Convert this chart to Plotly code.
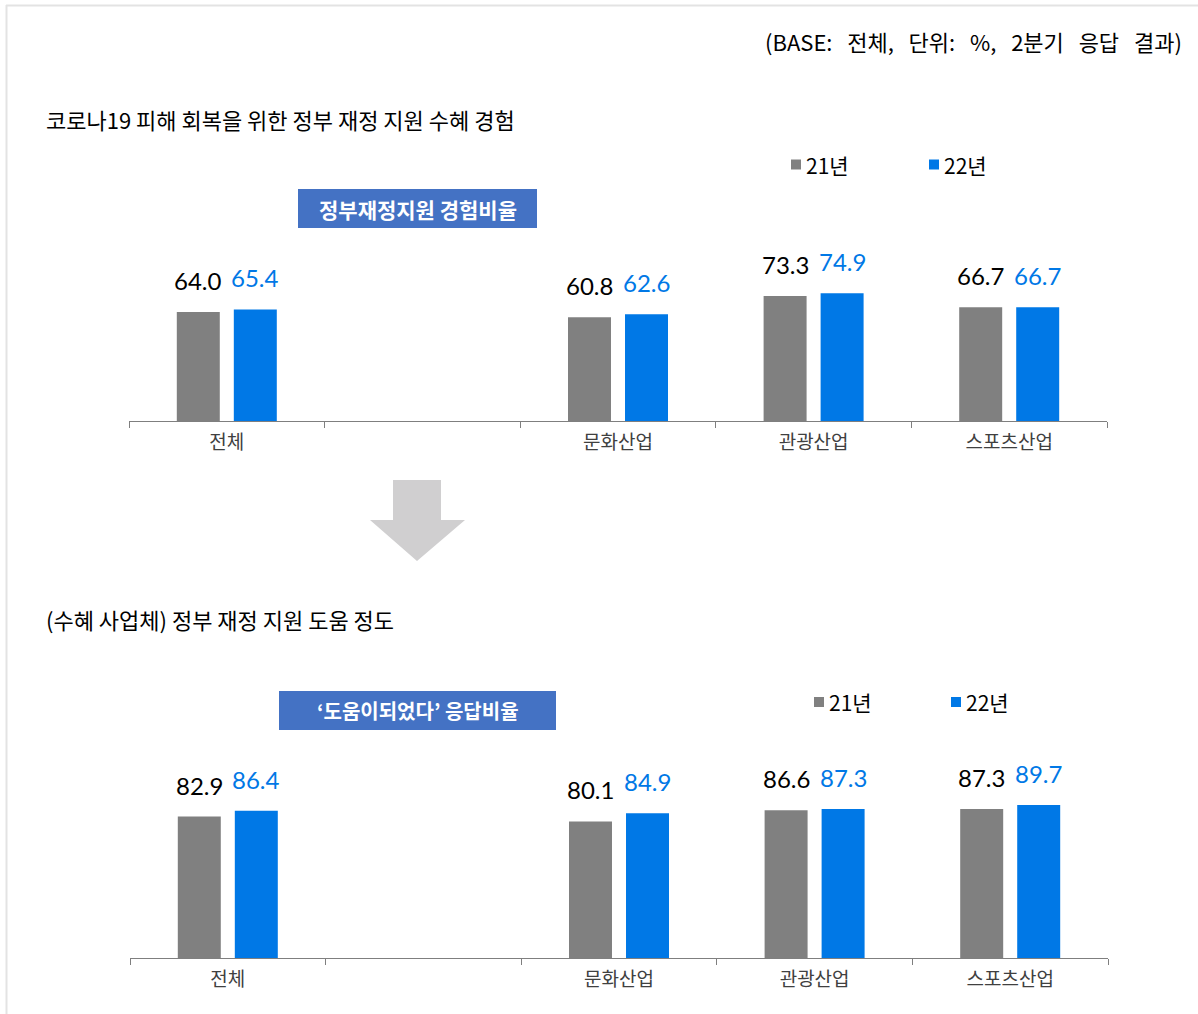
import plotly.graph_objects as go

W, H = 1198, 1014

categories = ["전체", " ", "문화산업", "관광산업", "스포츠산업"]
series_names = ["21년", "22년"]
support_21 = [64.0, None, 60.8, 73.3, 66.7]
support_22 = [65.4, None, 62.6, 74.9, 66.7]
helpful_21 = [82.9, None, 80.1, 86.6, 87.3]
helpful_22 = [86.4, None, 84.9, 87.3, 89.7]

title_top = "코로나19 피해 회복을 위한 정부 재정 지원 수혜 경험"
title_bottom = "(수혜 사업체) 정부 재정 지원 도움 정도"
base_note = "(BASE:   전체,   단위:   %,   2분기   응답   결과)"
box_top = "정부재정지원 경험비율"
box_bottom = "‘도움이되었다’ 응답비율"

GRAY = "#808080"
BLUE = "#0078E6"
KR = "Noto Sans CJK KR"
NUM = "Lato"


def px(x):
    return x / W


def py(y):
    return 1 - y / H


def nbsp(s):
    return s.replace(" ", "\u00a0")


fig = go.Figure()

panels = [
    ("x", "y", support_21, support_22),
    ("x2", "y2", helpful_21, helpful_22),
]
for xa, ya, v21, v22 in panels:
    for name, vals, col in [(series_names[0], v21, GRAY), (series_names[1], v22, BLUE)]:
        fig.add_trace(go.Bar(x=categories, y=vals, name=name, marker_color=col,
                             marker_line_width=0, xaxis=xa, yaxis=ya,
                             showlegend=False, hoverinfo="skip"))

annotations = []
for xa, ya, v21, v22 in panels:
    for vals, col, shift in [(v21, "#000000", -28.5), (v22, BLUE, 28.5)]:
        for c, v in zip(categories, vals):
            if v is None:
                continue
            annotations.append(dict(x=c, y=v, xref=xa, yref=ya, text=f"{v:.1f}",
                                    showarrow=False, xshift=shift, yshift=15,
                                    yanchor="bottom",
                                    font=dict(family=NUM, size=24, color=col)))

axis_common = dict(type="category", categoryorder="array", categoryarray=categories,
                   showline=True, linecolor="#7f7f7f", linewidth=1,
                   ticks="outside", ticklen=6, tickcolor="#7f7f7f",
                   tickson="boundaries", showgrid=False, zeroline=False,
                   ticklabelstandoff=4,
                   tickfont=dict(family=KR, size=19, color="#404040"),
                   range=[-0.5, 4.5], fixedrange=True)
yaxis_common = dict(showline=False, showgrid=False, zeroline=False,
                    showticklabels=False, ticks="")

fig.update_layout(
    width=W, height=H, margin=dict(l=0, r=0, t=0, b=0),
    paper_bgcolor="white", plot_bgcolor="white",
    barmode="group", bargap=0.417, bargroupgap=0.246,
    xaxis=dict(axis_common, domain=[px(129), px(1107)], anchor="y"),
    yaxis=dict(yaxis_common, domain=[py(421), py(421 - 170.5)], range=[0, 100], anchor="x"),
    xaxis2=dict(axis_common, domain=[px(130), px(1108)], anchor="y2"),
    yaxis2=dict(yaxis_common, domain=[py(958), py(958 - 187.6)], range=[0, 110], anchor="x2"),
    showlegend=False,
)

# titles / notes
annotations += [
    dict(x=px(1184), y=py(41), xref="paper", yref="paper", text=nbsp(base_note),
         xanchor="right", yanchor="middle", showarrow=False,
         font=dict(family=KR, size=22, color="#000000")),
    dict(x=px(44), y=py(119), xref="paper", yref="paper", text=title_top,
         xanchor="left", yanchor="middle", showarrow=False,
         font=dict(family=KR, size=22, color="#000000")),
    dict(x=px(44), y=py(619), xref="paper", yref="paper", text=title_bottom,
         xanchor="left", yanchor="middle", showarrow=False,
         font=dict(family=KR, size=22, color="#000000")),
    dict(x=px(417.5), y=py(208.5), xref="paper", yref="paper", text=f"<b>{box_top}</b>",
         xanchor="center", yanchor="middle", showarrow=False,
         font=dict(family=KR, size=21, color="white")),
    dict(x=px(417.5), y=py(710.5), xref="paper", yref="paper", text=f"<b>{box_bottom}</b>",
         xanchor="center", yanchor="middle", showarrow=False,
         font=dict(family=KR, size=20, color="white")),
]

shapes = [
    # frame lines
    dict(type="line", xref="paper", yref="paper", x0=px(6), x1=1, y0=py(5.5), y1=py(5.5),
         line=dict(color="#e3e3e3", width=2)),
    dict(type="line", xref="paper", yref="paper", x0=px(6.5), x1=px(6.5), y0=py(5), y1=0,
         line=dict(color="#e3e3e3", width=2)),
    # label boxes
    dict(type="rect", xref="paper", yref="paper", x0=px(298), x1=px(537), y0=py(228), y1=py(189),
         fillcolor="#4472C4", line=dict(width=0), layer="below"),
    dict(type="rect", xref="paper", yref="paper", x0=px(279), x1=px(556), y0=py(730), y1=py(691),
         fillcolor="#4472C4", line=dict(width=0), layer="below"),
    # arrow
    dict(type="path", xref="paper", yref="paper",
         path=(f"M {px(393)} {py(480)} L {px(441)} {py(480)} L {px(441)} {py(520)} "
               f"L {px(465)} {py(520)} L {px(417)} {py(561)} L {px(370)} {py(520)} "
               f"L {px(393)} {py(520)} Z"),
         fillcolor="#d0cfd0", line=dict(width=0)),
]

# legends
for (gx, bx, ly) in [(791, 929, 164.5), (814, 951, 702)]:
    for sx, col, name in [(gx, GRAY, series_names[0]), (bx, BLUE, series_names[1])]:
        shapes.append(dict(type="rect", xref="paper", yref="paper",
                           x0=px(sx), x1=px(sx + 10), y0=py(ly + 5), y1=py(ly - 5),
                           fillcolor=col, line=dict(width=0)))
        annotations.append(dict(x=px(sx + 13), y=py(ly), xref="paper", yref="paper",
                                text=name, xanchor="left", yanchor="middle", showarrow=False,
                                font=dict(family=KR, size=21, color="#000000")))

fig.update_layout(annotations=annotations, shapes=shapes)
fig.write_html("out.html")
